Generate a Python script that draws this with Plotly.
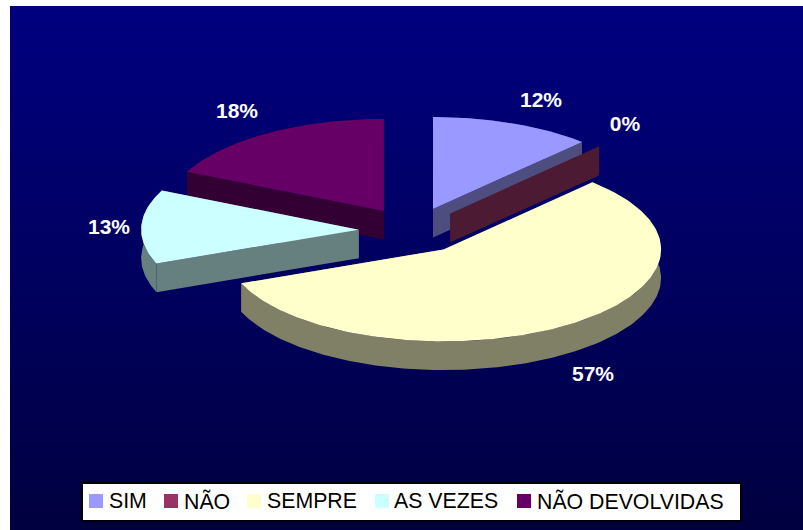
import numpy as np
import plotly.graph_objects as go

# Survey answers, in percent
categories = ["SIM", "NÃO", "SEMPRE", "AS VEZES", "NÃO DEVOLVIDAS"]
values = [12, 0, 57, 13, 18]
top_colors = ["#9999FF", "#993366", "#FFFFCC", "#CCFFFF", "#660066"]
side_colors = ["#4D4D80", "#4D1A33", "#808066", "#668080", "#330033"]

# Value labels, placed around the pie
label_x = [541, 625, 593, 109, 237]
label_y = [102, 126, 376, 229, 113]

# Legend layout
swatch_x = [96, 171, 254, 382, 524]
legend_text_x = [108, 183, 266, 393, 536]

# Tilted-pie geometry in page pixels
WIDTH, HEIGHT = 803, 530
CX, CY = 413.0, 230.4
RX, RY = 217.5, 92.0
DEPTH = 28.6
EXPLODE = 0.25
DRAW_ORDER = [4, 0, 1, 3, 2]


def polygon(fig, xs, ys, color):
    fig.add_trace(go.Scatter(
        x=list(xs), y=list(ys), mode="lines", fill="toself", fillcolor=color,
        line=dict(width=0, color=color), hoverinfo="skip", showlegend=False,
    ))


def rim(apex_x, apex_y, start, stop):
    t = np.linspace(start, stop, max(2, int(np.degrees(stop - start)) + 2))
    return apex_x + RX * np.sin(t), apex_y - RY * np.cos(t)


fig = go.Figure()

# Panel with vertical gradient
fig.add_trace(go.Scatter(
    x=[10, WIDTH, WIDTH, 10, 10], y=[6, 6, HEIGHT, HEIGHT, 6],
    mode="lines", fill="toself", line=dict(width=0),
    fillgradient=dict(type="vertical",
                      colorscale=[[0, "#000040"], [1, "#000080"]]),
    hoverinfo="skip", showlegend=False,
))

# Exploded slices, back to front
total = sum(values)
edges = np.concatenate([[0], np.cumsum(values)]) / total * 2 * np.pi
for i in DRAW_ORDER:
    a0, a1 = edges[i], edges[i + 1]
    mid = (a0 + a1) / 2
    ax = CX + EXPLODE * RX * np.sin(mid)
    ay = CY - EXPLODE * RY * np.cos(mid)
    rx, ry = rim(ax, ay, a0, a1)

    # Side walls: the outer rim and both cut faces
    polygon(fig, np.r_[rx, rx[::-1]], np.r_[ry, ry[::-1] + DEPTH], side_colors[i])
    for ex, ey in ((rx[0], ry[0]), (rx[-1], ry[-1])):
        polygon(fig, [ax, ex, ex, ax], [ay, ey, ey + DEPTH, ay + DEPTH], side_colors[i])

    # Top face
    if values[i] > 0:
        polygon(fig, np.r_[ax, rx], np.r_[ay, ry], top_colors[i])

# Percentage labels
fig.add_trace(go.Scatter(
    x=label_x, y=label_y, mode="text",
    text=[f"{v}%" for v in values],
    textposition="middle center",
    textfont=dict(family="Liberation Sans", size=21, color="white", weight="bold"),
    hoverinfo="skip", showlegend=False,
))

# Legend box
polygon(fig, [82, 741, 741, 82, 82], [483, 483, 521, 521, 483], "white")
fig.data[-1].line = dict(width=2, color="black")

for name, color, sx, tx in zip(categories, top_colors, swatch_x, legend_text_x):
    fig.add_trace(go.Scatter(
        x=[sx], y=[501], mode="markers", name=name,
        marker=dict(symbol="square", size=14, color=color, line=dict(width=0)),
        hoverinfo="skip", showlegend=False,
    ))
    fig.add_annotation(
        x=tx, y=501, text=name, showarrow=False, xanchor="left", yanchor="middle",
        xshift=-1, font=dict(family="Liberation Sans", size=21.3, color="black"),
    )

hidden = dict(visible=False, fixedrange=True)
fig.update_layout(
    width=WIDTH, height=HEIGHT, margin=dict(l=0, r=0, t=0, b=0),
    paper_bgcolor="white", plot_bgcolor="white",
    xaxis=dict(range=[0, WIDTH], **hidden),
    yaxis=dict(range=[HEIGHT, 0], **hidden),
    showlegend=False,
)
fig.write_html("out.html", config=dict(displayModeBar=False))
